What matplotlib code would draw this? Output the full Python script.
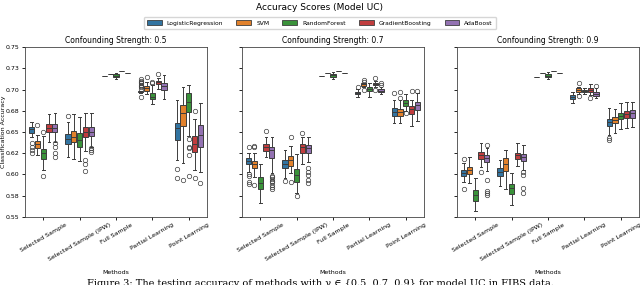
import matplotlib
matplotlib.use('Agg')
import matplotlib.pyplot as plt
from matplotlib.patches import Patch

models = ['LogisticRegression', 'SVM', 'RandomForest', 'GradientBoosting', 'AdaBoost']
methods = ['Selected Sample', 'Selected Sample (IPW)', 'Full Sample', 'Partial Learning', 'Point Learning']
strengths = ['0.5', '0.7', '0.9']
colors = ['#3274A1', '#E1812C', '#3A923A', '#C03D3E', '#9372B2']
yticks = [0.55, 0.575, 0.60, 0.625, 0.65, 0.675, 0.70, 0.725, 0.75]
yticklabels = ['0.55', '0.58', '0.60', '0.62', '0.65', '0.68', '0.70', '0.73', '0.75']

# five-number summaries per model: (whislo, q1, median, q3, whishi)
# ---- Confounding strength 0.5 ----
sel_05 = [(0.6445, 0.6485, 0.6532, 0.6563, 0.6622), (0.6229, 0.6315, 0.6358, 0.6397, 0.6465),
          (0.6052, 0.6181, 0.6249, 0.6300, 0.6453), (0.6386, 0.6504, 0.6551, 0.6594, 0.6713),
          (0.6386, 0.6497, 0.6544, 0.6594, 0.6728)]
sel_05_fl = [[0.6367, 0.6327, 0.6288, 0.6249], [0.6583], [0.6497, 0.598], [], [0.6367, 0.6327, 0.6249, 0.6209]]
ipw_05 = [(0.6201, 0.6358, 0.6414, 0.6473, 0.6622), (0.6178, 0.6378, 0.6445, 0.6512, 0.6713),
          (0.6158, 0.6320, 0.6406, 0.6485, 0.6681), (0.6279, 0.6437, 0.6497, 0.6556, 0.6728),
          (0.6327, 0.6456, 0.6504, 0.6556, 0.6720)]
ipw_05_fl = [[0.6693], [], [], [0.6165, 0.6122, 0.6035], [0.6308, 0.6288, 0.6260]]
full_05 = [(0.7161, 0.7161, 0.7161, 0.7161, 0.7161), (0.7190, 0.7190, 0.7190, 0.7190, 0.7190),
           (0.7129, 0.7153, 0.7167, 0.7181, 0.7200), (0.7226, 0.7226, 0.7226, 0.7226, 0.7226),
           (0.7193, 0.7193, 0.7193, 0.7193, 0.7193)]
full_05_fl = [[], [], [], [], []]
part_05 = [(0.6964, 0.6968, 0.6972, 0.6980, 0.6988), (0.6949, 0.6988, 0.7016, 0.7043, 0.7094),
           (0.6831, 0.6886, 0.6917, 0.6957, 0.7055), (0.7004, 0.7067, 0.7087, 0.7106, 0.7134),
           (0.6886, 0.6996, 0.7043, 0.7075, 0.7173)]
part_05_fl = [[0.7122, 0.7106, 0.7090, 0.7075, 0.7060, 0.7043, 0.7028, 0.7012, 0.6917],
              [0.7146], [0.7094, 0.7075], [0.7181], []]
point_05 = [(0.6170, 0.6406, 0.6544, 0.6610, 0.6878), (0.6131, 0.6575, 0.6720, 0.6819, 0.7035),
            (0.6450, 0.6740, 0.6858, 0.6957, 0.7055), (0.6051, 0.6267, 0.6358, 0.6453, 0.6650),
            (0.6031, 0.6327, 0.6465, 0.6583, 0.6839)]
point_05_fl = [[0.6063, 0.5953], [0.5933], [0.6414, 0.6320, 0.6308, 0.6229, 0.5980], [0.6748, 0.5960], [0.5900]]

# ---- Confounding strength 0.7 ----
sel_07 = [(0.6031, 0.6122, 0.6158, 0.6189, 0.6256), (0.5972, 0.6079, 0.6122, 0.6161, 0.6256),
          (0.5658, 0.5824, 0.5902, 0.5972, 0.6122), (0.6201, 0.6279, 0.6320, 0.6358, 0.6445),
          (0.6012, 0.6189, 0.6288, 0.6320, 0.6437)]
sel_07_fl = [[0.6320, 0.6004, 0.5980, 0.5913, 0.5886], [0.6335, 0.6320, 0.5874], [], [0.6515],
             [0.5984, 0.5965, 0.5945, 0.5925, 0.5905, 0.5880, 0.5855, 0.5830]]
ipw_07 = [(0.5953, 0.6079, 0.6122, 0.6170, 0.6288), (0.6019, 0.6099, 0.6170, 0.6217, 0.6335),
          (0.5783, 0.5913, 0.5992, 0.6063, 0.6240), (0.6122, 0.6256, 0.6320, 0.6358, 0.6445),
          (0.6150, 0.6248, 0.6308, 0.6347, 0.6445)]
ipw_07_fl = [[0.5922], [0.6437, 0.5913], [0.5744], [0.6485], [0.6079, 0.6031, 0.5992, 0.5933, 0.5894]]
full_07 = [(0.7161, 0.7161, 0.7161, 0.7161, 0.7161), (0.7193, 0.7193, 0.7193, 0.7193, 0.7193),
           (0.7125, 0.7153, 0.7170, 0.7190, 0.7210), (0.7222, 0.7222, 0.7222, 0.7222, 0.7222),
           (0.7193, 0.7193, 0.7193, 0.7193, 0.7193)]
full_07_fl = [[], [], [], [], []]
part_07 = [(0.6917, 0.6949, 0.6964, 0.6976, 0.7004), (0.7028, 0.7047, 0.7063, 0.7075, 0.7083),
           (0.6917, 0.6988, 0.7012, 0.7035, 0.7083), (0.7035, 0.7055, 0.7067, 0.7075, 0.7102),
           (0.6949, 0.6976, 0.6988, 0.7004, 0.7035)]
part_07_fl = [[0.7035], [0.7114, 0.7094, 0.6996], [], [0.7141, 0.6996], [0.7075, 0.7055]]
point_07 = [(0.6603, 0.6689, 0.6740, 0.6780, 0.6878), (0.6610, 0.6689, 0.6740, 0.6768, 0.6878),
            (0.6752, 0.6811, 0.6846, 0.6878, 0.6949), (0.6571, 0.6713, 0.6768, 0.6807, 0.6878),
            (0.6626, 0.6760, 0.6819, 0.6854, 0.6957)]
point_07_fl = [[0.6957], [0.6969, 0.6898], [0.6720], [0.6988], [0.6988]]

# ---- Confounding strength 0.9 ----
sel_09 = [(0.5913, 0.5984, 0.6019, 0.6051, 0.6130), (0.5894, 0.6004, 0.6051, 0.6083, 0.6201),
          (0.5571, 0.5689, 0.5756, 0.5815, 0.5953), (0.6090, 0.6178, 0.6229, 0.6267, 0.6367),
          (0.6043, 0.6150, 0.6189, 0.6229, 0.6308)]
sel_09_fl = [[0.6178, 0.5827], [], [], [0.6031], [0.6347, 0.5933, 0.5803, 0.5783, 0.5756]]
ipw_09 = [(0.5862, 0.5980, 0.6031, 0.6071, 0.6170), (0.5823, 0.6039, 0.6122, 0.6189, 0.6288),
          (0.5638, 0.5768, 0.5835, 0.5886, 0.6012), (0.6099, 0.6178, 0.6229, 0.6256, 0.6374),
          (0.6051, 0.6161, 0.6201, 0.6237, 0.6347)]
ipw_09_fl = [[], [], [], [], [0.6024, 0.5992, 0.5835, 0.5776]]
full_09 = [(0.7153, 0.7153, 0.7153, 0.7153, 0.7153), (0.7193, 0.7193, 0.7193, 0.7193, 0.7193),
           (0.7126, 0.7146, 0.7165, 0.7185, 0.7205), (0.7224, 0.7224, 0.7224, 0.7224, 0.7224),
           (0.7193, 0.7193, 0.7193, 0.7193, 0.7193)]
full_09_fl = [[], [], [], [], []]
part_09 = [(0.6839, 0.6890, 0.6910, 0.6933, 0.6976), (0.6949, 0.6976, 0.6996, 0.7016, 0.7035),
           (0.6945, 0.6969, 0.6984, 0.6996, 0.7020), (0.6937, 0.6976, 0.6996, 0.7016, 0.7067),
           (0.6898, 0.6929, 0.6949, 0.6969, 0.7016)]
part_09_fl = [[], [0.7075, 0.6929], [], [0.6898], [0.7043]]
point_09 = [(0.6465, 0.6571, 0.6614, 0.6654, 0.6787), (0.6492, 0.6603, 0.6642, 0.6681, 0.6768),
            (0.6532, 0.6650, 0.6689, 0.6721, 0.6846), (0.6544, 0.6662, 0.6713, 0.6752, 0.6858),
            (0.6556, 0.6662, 0.6721, 0.6760, 0.6858)]
point_09_fl = [[0.6426, 0.6406], [], [], [], []]

panels = [
    ([sel_05, ipw_05, full_05, part_05, point_05], [sel_05_fl, ipw_05_fl, full_05_fl, part_05_fl, point_05_fl]),
    ([sel_07, ipw_07, full_07, part_07, point_07], [sel_07_fl, ipw_07_fl, full_07_fl, part_07_fl, point_07_fl]),
    ([sel_09, ipw_09, full_09, part_09, point_09], [sel_09_fl, ipw_09_fl, full_09_fl, part_09_fl, point_09_fl]),
]

fig = plt.figure(figsize=(6.4, 2.85), dpi=100)
lefts = [25 / 640, 242 / 640, 457 / 640]
bottom = 1 - 216.7 / 285
height = (216.7 - 47.3) / 285
width = 182 / 640

edge = '#3d3d3d'
offsets = [-0.32, -0.16, 0.0, 0.16, 0.32]
bw = 0.145

axes = []
for pi, (stats_by_method, fl_by_method) in enumerate(panels):
    ax = fig.add_axes([lefts[pi], bottom, width, height])
    axes.append(ax)
    for mi in range(len(methods)):
        for k in range(len(models)):
            lo, q1, med, q3, hi = stats_by_method[mi][k]
            st = [dict(whislo=lo, q1=q1, med=med, q3=q3, whishi=hi,
                       fliers=fl_by_method[mi][k])]
            ax.bxp(st, positions=[mi + offsets[k]], widths=bw, patch_artist=True,
                   showfliers=True, manage_ticks=False,
                   boxprops=dict(facecolor=colors[k], edgecolor=edge, linewidth=0.7),
                   whiskerprops=dict(color=edge, linewidth=0.7),
                   capprops=dict(color=edge, linewidth=0.7),
                   medianprops=dict(color=edge, linewidth=0.7),
                   flierprops=dict(marker='o', markerfacecolor='none', markeredgecolor=edge,
                                   markersize=3.2, markeredgewidth=0.5))
    ax.set_xlim(-0.5, len(methods) - 0.5)
    ax.set_ylim(0.55, 0.75)
    ax.set_yticks(yticks)
    if pi == 0:
        ax.set_yticklabels(yticklabels)
        ax.set_ylabel('Classification Accuracy', fontsize=4.5)
        ax.yaxis.set_label_coords(-0.105, 0.5)
    else:
        ax.set_yticklabels([])
    ax.set_xticks(range(len(methods)))
    ax.set_xticklabels(methods, rotation=30, fontsize=4.5)
    ax.tick_params(axis='both', labelsize=4.5, length=2.5, width=0.6, pad=1.5)
    ax.set_xlabel('Methods', fontsize=4.5, labelpad=6)
    ax.set_title('Confounding Strength: ' + strengths[pi], fontsize=5.5, pad=3)
    for s in ax.spines.values():
        s.set_linewidth(0.6)
        s.set_color('#444444')

handles = [Patch(facecolor=colors[k], edgecolor=edge, linewidth=0.6, label=models[k]) for k in range(len(models))]
fig.legend(handles=handles, loc='center', bbox_to_anchor=(0.5, 1 - 23 / 285), ncol=5,
           fontsize=4.3, frameon=True, handlelength=2.5, handleheight=0.9, columnspacing=2.2,
           borderpad=0.5, edgecolor='#cccccc', fancybox=True)
fig.text(0.5, 1 - 7 / 285, 'Accuracy Scores (Model UC)', ha='center', va='center', fontsize=6.5)
fig.text(0.5, 1 - 279 / 285,
         'Figure 3: The testing accuracy of methods with \u03b3 \u2208 {0.5, 0.7, 0.9} for model UC in FIBS data.',
         ha='center', va='top', fontsize=7, family='DejaVu Serif')

fig.savefig('out.png', dpi=100)
